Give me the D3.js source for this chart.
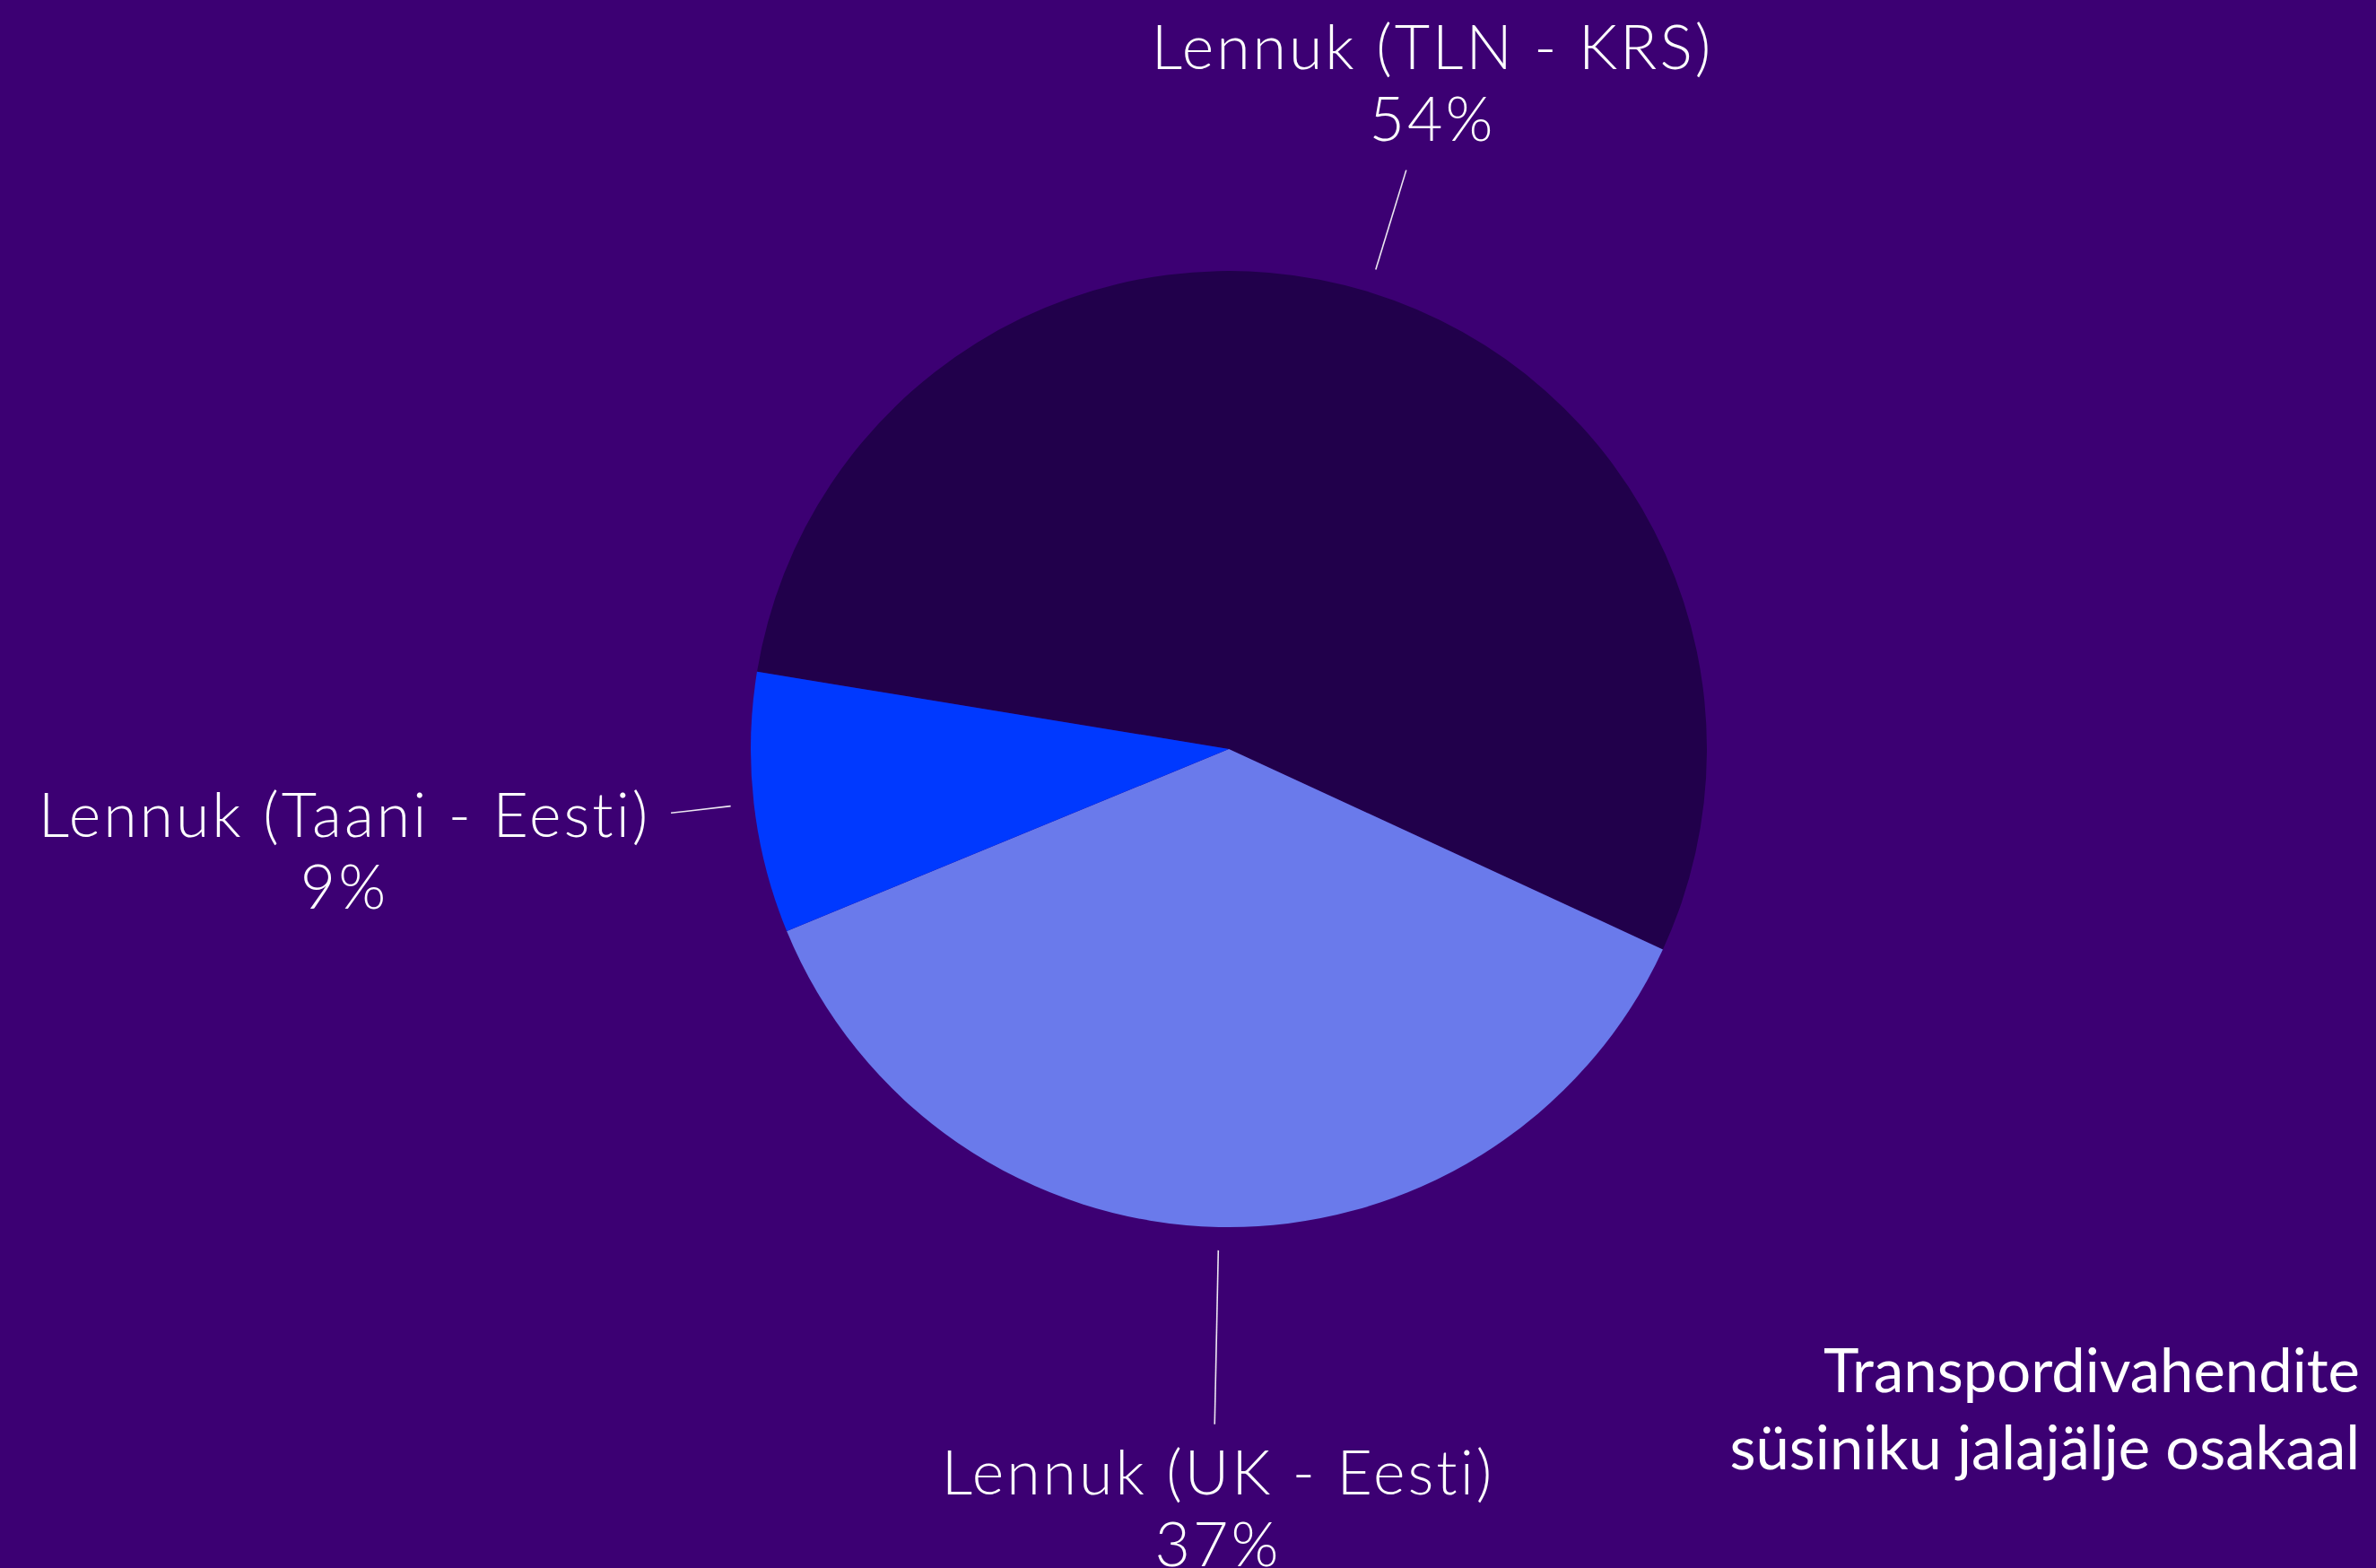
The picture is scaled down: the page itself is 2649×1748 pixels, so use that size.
<!DOCTYPE html>
<html>
<head>
<meta charset="utf-8">
<script src="https://cdn.jsdelivr.net/npm/d3@7"></script>
<style>
  html, body { margin: 0; padding: 0; background: #3c0073; }
  svg { display: block; }
  text { font-variant-ligatures: none; }
</style>
</head>
<body>
<svg id="chart" width="2649" height="1748"></svg>
<script>
// ---- data ----
const categories = ["Lennuk (TLN - KRS)", "Lennuk (UK - Eesti)", "Lennuk (Taani - Eesti)"];
const values = [54.3, 36.9, 8.8];
const valueLabels = ["54%", "37%", "9%"];
const titleLines = ["Transpordivahendite", "süsiniku jalajälje osakaal"];

// ---- layout / style ----
const W = 2649, H = 1748;
const cx = 1370, cy = 835, R = 533;
const startDeg = -80.7;
const colors = ["#21004b", "#6a7aeb", "#0039ff"];
const leaderStart = 559;
const leaderEnd = [675, 753, 626];
const labelAnchor = [[1597, 77], [1358, 1666], [384, 933]];
const lineGap = 80;

const svg = d3.select("#chart");
svg.append("rect").attr("width", W).attr("height", H).attr("fill", "#3c0073");

const pie = d3.pie().sort(null).value(d => d)
  .startAngle(startDeg * Math.PI / 180)
  .endAngle(startDeg * Math.PI / 180 + 2 * Math.PI);
const arcs = pie(values);
const arc = d3.arc().innerRadius(0).outerRadius(R);

const g = svg.append("g").attr("transform", `translate(${cx},${cy})`);
g.selectAll("path.slice").data(arcs).enter().append("path")
  .attr("class", "slice")
  .attr("d", arc)
  .attr("fill", (d, i) => colors[i]);

// leader lines
const midAngle = d => (d.startAngle + d.endAngle) / 2;
g.selectAll("line.leader").data(arcs).enter().append("line")
  .attr("class", "leader")
  .attr("x1", d => leaderStart * Math.sin(midAngle(d)))
  .attr("y1", d => -leaderStart * Math.cos(midAngle(d)))
  .attr("x2", (d, i) => leaderEnd[i] * Math.sin(midAngle(d)))
  .attr("y2", (d, i) => -leaderEnd[i] * Math.cos(midAngle(d)))
  .attr("stroke", "#ffffff")
  .attr("stroke-opacity", 0.9)
  .attr("stroke-width", 1.6);

// labels
const labelFont = "Lato, 'Open Sans', sans-serif";
const lab = svg.selectAll("text.lab").data(arcs).enter().append("text")
  .attr("class", "lab")
  .attr("text-anchor", "middle")
  .attr("font-family", labelFont)
  .attr("font-weight", 300)
  .attr("font-size", 68)
  .attr("letter-spacing", 3)
  .attr("fill", "#ffffff");
lab.append("tspan")
  .attr("x", (d, i) => labelAnchor[i][0])
  .attr("y", (d, i) => labelAnchor[i][1])
  .text((d, i) => categories[i]);
lab.append("tspan")
  .attr("x", (d, i) => labelAnchor[i][0])
  .attr("y", (d, i) => labelAnchor[i][1] + lineGap)
  .text((d, i) => valueLabels[i]);

// title
const title = svg.append("text")
  .attr("text-anchor", "end")
  .attr("font-family", "Lato, 'Open Sans', sans-serif")
  .attr("font-weight", 400)
  .attr("font-size", 67)
  .attr("fill", "#ffffff");
title.selectAll("tspan").data(titleLines).enter().append("tspan")
  .attr("x", 2631)
  .attr("y", (d, i) => 1552 + i * 86)
  .text(d => d);
</script>
</body>
</html>
